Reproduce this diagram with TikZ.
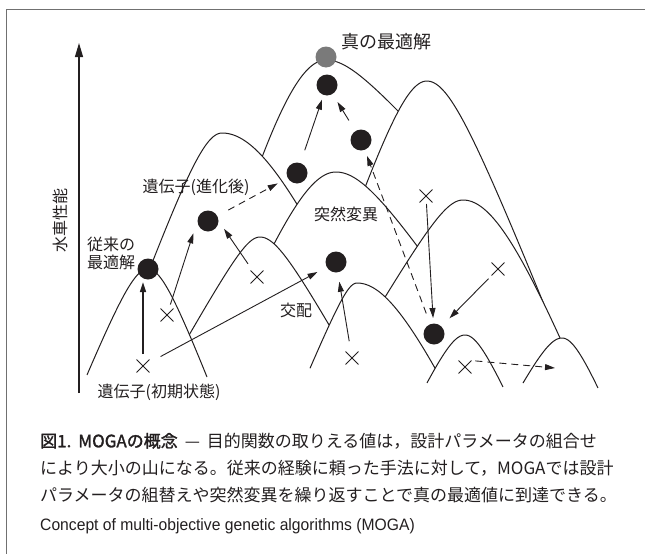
\documentclass[tikz,border=0pt]{standalone}
\usepackage{fontspec}
\setmainfont{Liberation Sans}
\newfontfamily\cjk{Noto Sans CJK JP}
\newfontfamily\cjkb[FakeBold=1.6]{Noto Sans CJK JP}
\newfontfamily\capen{Liberation Sans}
\XeTeXlinebreaklocale "ja"
\XeTeXlinebreakskip=0pt plus 2pt
\usetikzlibrary{arrows.meta,shapes.misc,calc}
\definecolor{ink}{HTML}{231F20}
\definecolor{framec}{HTML}{707070}
\definecolor{topdot}{HTML}{7A7A7A}
% a hill: peak (#1,#2); left leg to dx=#3 with A=#4, B=#5; right leg to dx=#6 with A=#7, B=#8
\newcommand\mountpath[8]{plot[variable=\t,domain=#3:0,samples=45] ({#1+\t},{#2+#4*(sqrt(1+(\t/#5)*(\t/#5))-1)})
  -- plot[variable=\t,domain=0:#6,samples=45] ({#1+\t},{#2+#7*(sqrt(1+(\t/#8)*(\t/#8))-1)})}
\newcommand\drawmount[8]{%
  \fill[white] \mountpath{#1}{#2}{#3}{#4}{#5}{#6}{#7}{#8} -- cycle;
  \draw[hill] \mountpath{#1}{#2}{#3}{#4}{#5}{#6}{#7}{#8};
}
\begin{document}
\begin{tikzpicture}[x=1pt,y=-1pt,
  hill/.style={draw=ink,line width=1pt,line join=round},
  dot/.style={circle,fill=ink,inner sep=0pt,minimum size=21pt},
  xmark/.style={cross out,draw=ink,line width=0.9pt,minimum size=12pt,inner sep=0pt},
  arr/.style={draw=ink,line width=0.9pt,-{Triangle[length=10pt,width=6pt]}},
  darr/.style={arr,dash pattern=on 7pt off 5pt},
  lbl/.style={font=\cjk\fontsize{16}{18}\selectfont,inner sep=0pt,text=ink},
  capline/.style={anchor=west,inner sep=0pt,font=\cjk\fontsize{17}{17}\selectfont,text=ink}
]
\useasboundingbox (0,0) rectangle (645,554);
% frame
\draw[framec,line width=1pt] (6,560) -- (6,9) -- (650,9);
% axis
\coordinate (ax0) at (79,393);
\coordinate (ax1) at (79,43);
\draw[ink,line width=1.1pt,-{Triangle[length=14pt,width=8pt]}] (ax0) -- (ax1);
\node[lbl,rotate=90] (axl) at (60,220) {水車性能};

% hills, back to front
\drawmount{326}{60}{-68}{241}{65}{80}{38}{34}
\drawmount{427}{81}{-67}{103}{35}{135}{86.5}{34}
\drawmount{222}{133}{-75}{75}{27.5}{81}{172}{75}
\drawmount{336}{172}{-68}{129.5}{52}{86}{63}{42}
\drawmount{260}{237}{-76}{32}{18}{75}{43}{24}
\drawmount{463}{200}{-80}{42.7}{25}{99}{161}{62}
\drawmount{357}{283}{-47}{31}{13}{80}{133}{60}
\drawmount{148}{269}{-61}{54.4}{22}{59}{58}{22}
\drawmount{465}{335}{-38}{41.8}{20}{38}{45.3}{20}
\drawmount{562}{338}{-39}{37.8}{20}{36}{47.2}{20}

% individuals
\node[dot,fill=topdot] (G) at (326,57) {};
\node[dot] (D1) at (148,269) {};
\node[dot] (D2) at (208,221) {};
\node[dot] (D3) at (297,173) {};
\node[dot] (D4) at (327,85) {};
\node[dot] (D5) at (361,140) {};
\node[dot] (D6) at (336,262) {};
\node[dot] (D7) at (434,334) {};
\node[xmark] (X1) at (143,366) {};
\node[xmark] (X2) at (167,315) {};
\node[xmark] (X3) at (257,277) {};
\node[xmark] (X4) at (352,358) {};
\node[xmark] (X5) at (426,196) {};
\node[xmark] (X6) at (498,269) {};
\node[xmark] (X7) at (465,367) {};
\coordinate (T7) at (555,368);

% connectors
\draw[arr,line width=1.6pt,shorten <=12pt,shorten >=13pt] (X1.center) -- (X1.center |- D1.center);
\draw[arr,shorten <=20pt,shorten >=21pt] (X1.center) -- (D6.center);
\draw[arr,shorten <=11pt,shorten >=13pt] (X2.center) -- (D2.west);
\draw[arr,shorten <=16pt,shorten >=9.5pt] (X3.center) -- (D2.east);
\draw[darr,shorten <=23pt,shorten >=22pt] (D2.center) -- (D3.center);
\draw[arr,shorten <=24pt,shorten >=15.5pt] (D3.center) -- (D4.center);
\draw[arr,shorten <=23pt,shorten >=20pt] (D5.center) -- (D4.center);
\draw[darr,shorten <=22pt,shorten >=17pt] (D7.center) -- (D5.center);
\draw[arr,shorten <=17pt,shorten >=20pt] (X4.center) -- (D6.center);
\draw[arr,shorten <=8pt,shorten >=16pt] (X5.center) -- (D7.center);
\draw[arr,shorten <=13.6pt,shorten >=22pt] (X6.center) -- (D7.center);
\draw[darr,shorten <=4pt] (X7.north east) -- (T7);

% labels
\node[lbl,font=\cjk\fontsize{18}{20}\selectfont] (lt) at (386,42) {真の最適解};
\node[lbl] (le) at (196,187) {遺伝子(進化後)};
\node[lbl,align=left] (lc) at (111,253) {従来の\\最適解};
\node[lbl] (lm) at (346,214) {突然変異};
\node[lbl] (lx) at (296,310) {交配};
\node[lbl] (li) at (159,392) {遺伝子(初期状態)};

% caption
\node[capline] (c1) at (40,441) {\hbox to 578pt{{\cjkb 図1.\kern7pt MOGAの概念}\kern7pt—\kern7pt 目的関数の取りえる値は，設計パラメータの組合せ}};
\node[capline] (c2) at (40,468) {\hbox to 578pt{により大小の山になる。従来の経験に頼った手法に対して，MOGAでは設計}};
\node[capline] (c3) at (40,495) {\hbox to 578pt{パラメータの組替えや突然変異を繰り返すことで真の最適値に到達できる。}};
\node[anchor=west,inner sep=0pt,text=ink,font=\capen\fontsize{16.5}{16.5}\selectfont] (c4) at (40,526) {\scalebox{0.95}[1]{Concept of multi-objective genetic algorithms (MOGA)}};
\end{tikzpicture}
\end{document}
